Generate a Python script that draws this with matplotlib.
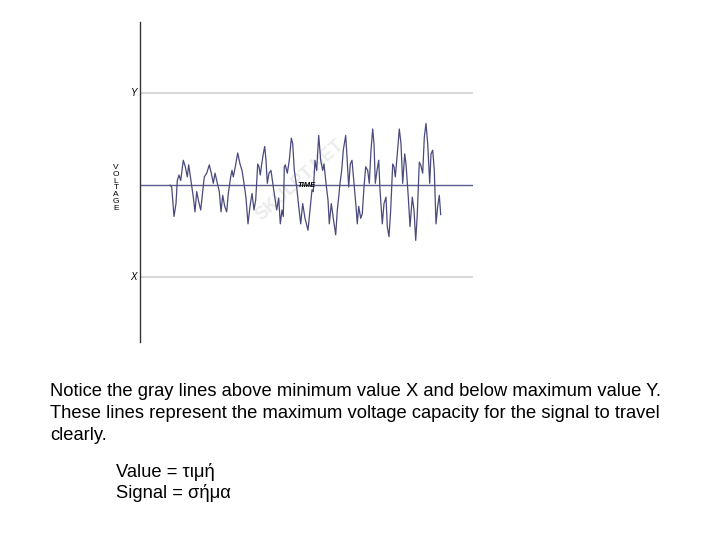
import matplotlib.pyplot as plt

plt.rcParams["font.family"] = ["Liberation Sans", "DejaVu Sans"]

# signal trace (time in arbitrary units, voltage relative to limit lines Y=+1, X=-1)
time = [30.0, 31.7, 34.0, 36.0, 37.3, 39.0, 40.7, 43.3, 45.3, 47.3, 48.7, 50.7,
        53.3, 55.0, 56.7, 58.7, 60.7, 62.7, 64.3, 66.7, 69.3, 71.3, 73.3, 75.0,
        76.7, 79.3, 81.0, 82.7, 84.7, 86.7, 88.3, 90.7, 92.0, 93.3, 95.3, 97.7,
        100.0, 102.0, 104.0, 106.0, 108.0, 110.0, 112.0, 114.0, 115.7, 117.7,
        119.0, 120.3, 121.7, 123.3, 124.7, 126.0, 127.3, 129.0, 131.0, 133.3,
        136.7, 138.7, 140.3, 142.0, 143.3, 144.3, 145.3, 147.3, 149.3, 151.3,
        152.7, 154.3, 156.7, 158.7, 160.7, 162.7, 165.0, 168.0, 170.0, 172.0,
        173.3, 175.0, 176.7, 178.7, 180.7, 182.7, 184.0, 186.0, 188.0, 189.3,
        191.3, 193.3, 195.7, 197.3, 198.7, 200.0, 201.7, 203.3, 205.7, 207.0,
        208.7, 210.3, 212.0, 214.0, 216.0, 217.3, 218.7, 220.7, 222.3, 224.0,
        225.7, 227.7, 229.3, 231.0, 232.7, 234.0, 235.3, 237.0, 238.7, 240.0,
        242.3, 244.0, 246.0, 247.3, 249.0, 250.7, 252.7, 254.0, 255.3, 257.3,
        259.3, 261.0, 262.7, 264.7, 266.0, 268.3, 270.0, 272.3, 274.0, 275.7,
        277.3, 279.3, 280.7, 282.7, 284.3, 286.0, 287.7, 289.7, 291.0, 292.7,
        294.3, 296.0, 297.7, 299.3, 300.7]
voltage = [0.0, -0.02, -0.34, -0.20, 0.05, 0.11, 0.05, 0.27, 0.20, 0.09, 0.22, 0.07,
           -0.13, -0.29, -0.07, -0.18, -0.27, -0.07, 0.09, 0.13, 0.22, 0.13, 0.02, 0.13,
           0.05, -0.07, -0.29, -0.11, -0.23, -0.29, -0.09, 0.09, 0.16, 0.09, 0.20, 0.35,
           0.23, 0.16, 0.02, -0.14, -0.42, -0.23, -0.09, -0.27, -0.16, 0.23,
           0.20, 0.11, 0.23, 0.34, 0.42, 0.27, 0.02, 0.13, 0.16, -0.02,
           -0.27, -0.14, -0.42, -0.27, -0.34, 0.20, 0.22, 0.13, 0.27, 0.51,
           0.45, 0.16, -0.02, -0.23, -0.42, -0.20, -0.36, -0.49, -0.27, -0.05,
           -0.07, 0.27, 0.16, 0.54, 0.27, 0.16, 0.23, 0.02, -0.16, -0.42,
           -0.20, -0.36, -0.54, -0.27, -0.13, 0.02, 0.16, 0.38, 0.54, 0.31,
           -0.02, 0.23, 0.27, 0.02, -0.23, -0.42, -0.23, -0.36, -0.31, -0.02,
           0.20, 0.16, 0.02, 0.38, 0.61, 0.45, 0.02, 0.16, 0.27, -0.05,
           -0.42, -0.20, -0.13, -0.45, -0.56, -0.27, 0.23, 0.20, 0.09, 0.34,
           0.61, 0.45, 0.02, 0.34, 0.23, -0.13, -0.45, -0.13, -0.27, -0.60,
           -0.31, 0.25, 0.22, 0.13, 0.52, 0.67, 0.45, 0.02, 0.34, 0.38,
           0.16, -0.42, -0.23, -0.11, -0.32]

max_level = 1.0   # Y
min_level = -1.0  # X

notes = [
    "Notice the gray lines above minimum value X and below maximum value Y.",
    "These lines represent the maximum voltage capacity for the signal to travel",
    "clearly.",
]
glossary = ["Value = τιμή", "Signal = σήμα"]

W, H = 720, 540
fig = plt.figure(figsize=(7.2, 5.4), dpi=100)

# axes box in pixels (left, top, right, bottom)
left, top, right, bottom = 140, 21.7, 473, 341.7
ax = fig.add_axes([left / W, 1 - bottom / H, (right - left) / W, (bottom - top) / H])
ax.set_xlim(0, right - left)
ax.set_ylim(-1.70, 1.775)

ax.axhline(max_level, color="#cfcfcf", lw=1.2)
ax.axhline(min_level, color="#cfcfcf", lw=1.2)
ax.axhline(0, color="#5c5c8e", lw=1.0)
ax.plot(time, voltage, color="#4a4a7c", lw=0.9)

for s in ["top", "right", "bottom"]:
    ax.spines[s].set_visible(False)
ax.spines["left"].set_color("#333333")
ax.spines["left"].set_linewidth(1.0)
ax.set_xticks([])
ax.set_yticks([])

# axis annotations
ax.text(-3, max_level, "Y", ha="right", va="center", fontsize=7, style="italic")
ax.text(-3, min_level, "X", ha="right", va="center", fontsize=7, style="italic")
ax.text(-24, -0.03, "\n".join("VOLTAGE"), ha="center", va="center", fontsize=6,
        linespacing=0.95)
ax.text(167, 0, "TIME", ha="center", va="center", fontsize=5.5,
        fontweight="bold", style="italic")

# faint watermark
ax.text(160, 0.05, "SKULPT.NET", ha="center", va="center", fontsize=13,
        fontweight="bold", color="#ececec", rotation=42, zorder=0)

# slide text
for i, line in enumerate(notes):
    fig.text(50 / W, 1 - (392 + i * 21.5) / H, line, fontsize=13.2,
             ha="left", va="center")
for i, line in enumerate(glossary):
    fig.text(116 / W, 1 - (472 + i * 21.5) / H, line, fontsize=13.2,
             ha="left", va="center")

fig.savefig("out.png", dpi=100)
